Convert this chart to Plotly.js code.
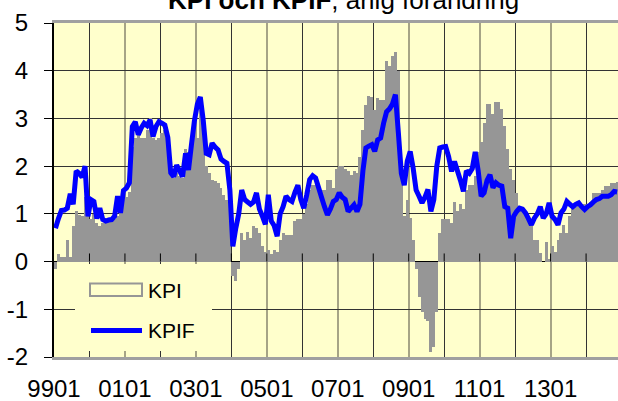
<!DOCTYPE html>
<html>
<head>
<meta charset="utf-8">
<script src="https://cdn.plot.ly/plotly-3.0.1.min.js"></script>
<style>html,body{margin:0;padding:0;background:#fff;}#chart{width:618px;height:401px;}</style>
</head>
<body>
<div id="chart"></div>
<script>
// KPI, annual change (%), monthly from 1999-01
const kpi1999 = [-0.15, 0.15, 0.1, 0.1, 0.45, 0.1, 0.75, 1.05, 0.97, 0.95, 1.35, 0.95];
const kpi2000 = [0.9, 1.0, 0.8, 0.75, 0.8, 0.85, 0.85, 0.9, 0.9, 0.95, 1.05, 1.3];
const kpi2001 = [1.35, 1.45, 2.4, 2.6, 2.75, 2.6, 2.6, 2.75, 3.0, 2.6, 2.55, 2.6];
const kpi2002 = [2.7, 2.75, 2.6, 1.85, 1.75, 1.85, 1.8, 1.75, 2.35, 2.3, 2.5, 2.8];
const kpi2003 = [2.6, 3.3, 2.95, 2.0, 1.85, 1.7, 1.68, 1.65, 1.55, 1.4, 1.3, 1.3];
const kpi2004 = [-0.3, -0.4, -0.15, 0.6, 0.45, 0.62, 0.5, 0.75, 0.7, 0.6, 0.32, 0.2];
const kpi2005 = [0.25, 0.15, 0.25, 0.2, 0.46, 0.6, 0.55, 0.55, 0.55, 0.85, 0.9, 0.9];
const kpi2006 = [1.0, 1.2, 1.5, 1.6, 1.6, 1.6, 1.5, 1.5, 1.7, 1.7, 1.55, 1.95];
const kpi2007 = [2.0, 2.0, 1.95, 1.9, 1.82, 1.89, 1.85, 2.2, 2.76, 3.28, 3.46, 3.45];
const kpi2008 = [3.17, 3.42, 3.39, 3.39, 4.2, 4.09, 4.3, 4.4, 4.0, 2.0, 0.95, 1.3];
const kpi2009 = [0.92, 0.46, -0.15, -0.75, -1.05, -1.2, -1.25, -1.9, -1.8, -1.05, 0.6, 0.9];
const kpi2010 = [0.9, 0.9, 0.8, 1.25, 1.05, 1.2, 1.1, 1.5, 1.6, 1.6, 1.8, 2.3];
const kpi2011 = [2.5, 2.9, 3.3, 3.3, 3.1, 3.35, 3.35, 3.2, 2.85, 2.35, 1.95, 1.7];
const kpi2012 = [1.44, 1.12, 1.05, 0.98, 0.95, 0.9, 0.46, 0.46, 0.18, 0.0, 0.4, 0.05];
const kpi2013 = [0.32, 0.2, 0.45, 0.6, 0.77, 0.6, 0.95, 1.15, 1.15, 1.2, 1.2, 1.2];
const kpi2014 = [1.2, 1.25, 1.44, 1.44, 1.44, 1.5, 1.58, 1.58, 1.65, 1.65, 1.66];

// KPIF, annual change (%), monthly from 1999-01
const kpif1999 = [0.7, 0.9, 1.07, 1.08, 1.12, 1.42, 1.2, 1.9, 1.85, 1.77, 2.0, 0.95];
const kpif2000 = [1.3, 1.26, 0.9, 1.12, 0.88, 0.85, 0.87, 0.88, 0.95, 1.37, 1.02, 1.49];
const kpif2001 = [1.54, 1.65, 2.83, 2.93, 2.66, 2.8, 2.9, 2.85, 2.97, 2.62, 2.83, 2.93];
const kpif2002 = [2.9, 2.86, 2.6, 1.86, 1.78, 2.02, 1.9, 1.78, 2.27, 1.92, 2.45, 2.95];
const kpif2003 = [3.3, 3.45, 2.95, 2.27, 2.24, 2.48, 2.4, 2.34, 2.15, 2.1, 2.06, 1.5];
const kpif2004 = [0.32, 0.7, 1.0, 1.5, 1.3, 1.25, 1.2, 1.25, 1.44, 1.1, 0.95, 0.78];
const kpif2005 = [1.4, 0.85, 0.75, 0.53, 1.0, 1.15, 1.37, 1.3, 1.26, 1.45, 1.6, 1.3];
const kpif2006 = [1.12, 1.4, 1.72, 1.8, 1.75, 1.55, 1.35, 1.15, 0.98, 1.1, 1.26, 1.3];
const kpif2007 = [1.44, 1.35, 1.3, 1.05, 1.12, 1.19, 1.05, 1.2, 1.9, 2.38, 2.42, 2.45];
const kpif2008 = [2.31, 2.55, 2.59, 2.9, 3.14, 3.2, 3.3, 3.5, 2.7, 1.85, 1.6, 2.1];
const kpif2009 = [2.31, 1.96, 1.5, 1.37, 1.23, 1.35, 1.51, 1.05, 1.3, 2.0, 2.38, 2.4];
const kpif2010 = [2.41, 2.2, 1.89, 2.1, 1.9, 1.7, 1.47, 1.9, 1.85, 1.95, 2.3, 1.9];
const kpif2011 = [1.37, 1.44, 1.7, 1.82, 1.55, 1.65, 1.6, 1.58, 1.15, 1.12, 0.49, 0.95];
const kpif2012 = [1.05, 1.12, 1.1, 1.02, 0.9, 0.77, 0.91, 1.0, 1.15, 0.91, 1.0, 1.23];
const kpif2013 = [0.95, 0.88, 0.77, 1.02, 1.1, 1.26, 1.2, 1.15, 1.2, 1.23, 1.15, 1.09];
const kpif2014 = [1.15, 1.19, 1.25, 1.3, 1.32, 1.37, 1.37, 1.37, 1.4, 1.47, 1.46];

const tickLabels = ["9901", "0101", "0301", "0501", "0701", "0901", "1101", "1301"];
const yTickLabels = ["-2", "-1", "0", "1", "2", "3", "4", "5"];
const seriesNames = ["KPI", "KPIF"];
const titleText = "<b>KPI och KPIF</b>, årlig förändring";

const kpi = [].concat(kpi1999, kpi2000, kpi2001, kpi2002, kpi2003, kpi2004, kpi2005, kpi2006,
  kpi2007, kpi2008, kpi2009, kpi2010, kpi2011, kpi2012, kpi2013, kpi2014);
const kpif = [].concat(kpif1999, kpif2000, kpif2001, kpif2002, kpif2003, kpif2004, kpif2005, kpif2006,
  kpif2007, kpif2008, kpif2009, kpif2010, kpif2011, kpif2012, kpif2013, kpif2014);

// month slots: month i occupies [i, i+1] on the category axis
const xb = kpi.map((_, i) => i + 0.5);
const xl = kpif.map((_, i) => i + 0.5);
const tickvals = tickLabels.map((_, k) => k * 24);
const yTickVals = yTickLabels.map(Number);

const FONT = "Liberation Sans, Arial, Helvetica, sans-serif";
const BG = "#FFFFCC";

// plot area in pixels: left 54, right 618, top 23, bottom 357
const W = 618, H = 401, L = 54, T = 23, B = 44;
const pw = W - L, ph = H - T - B;
const px = x => (x - L) / pw;          // pixel -> paper x
const py = y => (H - B - y) / ph;      // pixel -> paper y

const shapes = [];
// x-axis tick marks on the zero line (pointing up), one per year
for (let k = 1; k <= 15; k++) {
  shapes.push({type: "line", xref: "x", yref: "y", x0: k * 12, x1: k * 12, y0: 0, y1: 0.17,
    line: {color: "#000", width: 1}, layer: "above"});
}
// legend box
shapes.push({type: "rect", xref: "paper", yref: "paper", x0: px(75), x1: px(212), y0: py(351), y1: py(264),
  fillcolor: BG, line: {width: 0}, layer: "above"});
shapes.push({type: "rect", xref: "paper", yref: "paper", x0: px(90), x1: px(142), y0: py(296), y1: py(283.5),
  fillcolor: "rgba(0,0,0,0)", line: {color: "#969696", width: 2}, layer: "above"});
shapes.push({type: "line", xref: "paper", yref: "paper", x0: px(91), x1: px(142), y0: py(330.5), y1: py(330.5),
  line: {color: "#0000FF", width: 5}, layer: "above"});

const annotations = [
  {xref: "paper", yref: "paper", x: px(146), y: py(290), xanchor: "left", yanchor: "middle",
   text: seriesNames[0], showarrow: false, font: {family: FONT, size: 21, color: "#000"}},
  {xref: "paper", yref: "paper", x: px(146), y: py(330), xanchor: "left", yanchor: "middle",
   text: seriesNames[1], showarrow: false, font: {family: FONT, size: 21, color: "#000"}}
];

const traces = [
  {type: "bar", name: seriesNames[0], x: xb, y: kpi, width: 1,
   marker: {color: "#969696", line: {width: 0}}, hoverinfo: "y"},
  {type: "scatter", mode: "lines", name: seriesNames[1], x: xl, y: kpif,
   line: {color: "#0000FF", width: 5, shape: "linear", simplify: false}, hoverinfo: "y"}
];

const layout = {
  width: W, height: H,
  margin: {l: L, r: 0, t: T, b: B, pad: 0},
  paper_bgcolor: "#FFFFFF",
  plot_bgcolor: BG,
  showlegend: false,
  bargap: 0,
  font: {family: FONT, size: 24, color: "#000"},
  title: {text: titleText, font: {family: FONT, size: 26, color: "#000"},
          xref: "container", yref: "container", x: 0.556, xanchor: "center", y: 1, yanchor: "middle"},
  xaxis: {
    range: [0, 190.8], tickmode: "array", tickvals: tickvals, ticktext: tickLabels,
    ticks: "", showgrid: true, gridcolor: "#a6a486", gridwidth: 2,
    minor: {tickmode: "linear", tick0: 0, dtick: 12, showgrid: true, gridcolor: "#333333", gridwidth: 1, ticks: ""},
    showline: true, mirror: true, linecolor: "#a0a0a0", linewidth: 3,
    zeroline: false, tickfont: {family: FONT, size: 24, color: "#000"}, ticklabelstandoff: 8,
    fixedrange: true
  },
  yaxis: {
    range: [-2, 5], tickmode: "array", tickvals: yTickVals, ticktext: yTickLabels,
    ticks: "outside", ticklen: 8, tickcolor: "#000", tickwidth: 1,
    showgrid: true, gridcolor: "#333333", gridwidth: 1,
    zeroline: true, zerolinecolor: "#000", zerolinewidth: 1.5,
    showline: true, linecolor: "#000", linewidth: 2,
    tickfont: {family: FONT, size: 24, color: "#000"}, ticklabelstandoff: 11,
    fixedrange: true
  },
  shapes: shapes,
  annotations: annotations
};

Plotly.newPlot("chart", traces, layout, {displayModeBar: false, staticPlot: true});
</script>
</body>
</html>
